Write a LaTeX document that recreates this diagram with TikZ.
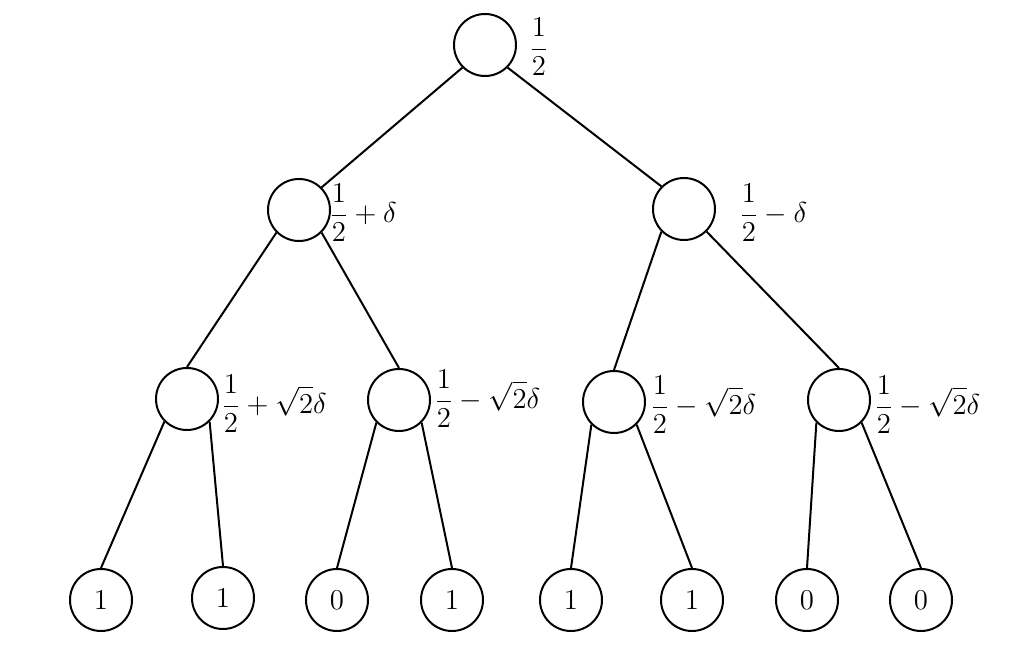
\documentclass[tikz,border=0pt]{standalone}
\begin{document}
\begin{tikzpicture}[x=0.5pt,y=-0.5pt,
  vert/.style={circle,draw,line width=1pt,minimum size=31pt,inner sep=0pt,font=\fontsize{15}{18}\selectfont},
  lab/.style={anchor=west,inner sep=0pt,font=\fontsize{15.5}{18}\selectfont},
  edge/.style={line width=1pt}]
\useasboundingbox (0,0) rectangle (1024,656);
\node[vert] (r) at (485,45) {};
\node[vert] (a) at (299,210) {};
\node[vert] (b) at (684,209) {};
\node[vert] (a1) at (187,399) {};
\node[vert] (a2) at (399,400) {};
\node[vert] (b1) at (614,402) {};
\node[vert] (b2) at (839,400) {};
\node[vert] (l1) at (101,600) {$1$};
\node[vert] (l2) at (223,598) {$1$};
\node[vert] (l3) at (337,600) {$0$};
\node[vert] (l4) at (452,600) {$1$};
\node[vert] (l5) at (571,600) {$1$};
\node[vert] (l6) at (692,600) {$1$};
\node[vert] (l7) at (807,600) {$0$};
\node[vert] (l8) at (921,600) {$0$};
\node[lab] (tr) at (529,47) {$\displaystyle\frac{1}{2}$};
\node[lab] (ta) at (329,213) {$\displaystyle\frac{1}{2}+\delta$};
\node[lab] (tb) at (739,213) {$\displaystyle\frac{1}{2}-\delta$};
\node[lab] (ta1) at (221,404) {$\displaystyle\frac{1}{2}+\sqrt{2}\delta$};
\node[lab] (ta2) at (434,399) {$\displaystyle\frac{1}{2}-\sqrt{2}\delta$};
\node[lab] (tb1) at (650,405) {$\displaystyle\frac{1}{2}-\sqrt{2}\delta$};
\node[lab] (tb2) at (874,405) {$\displaystyle\frac{1}{2}-\sqrt{2}\delta$};
\draw[edge] (r.south west) -- (a.north east);
\draw[edge] (r.south east) -- (b.north west);
\draw[edge] (a.south west) -- (a1.north);
\draw[edge] (a.south east) -- (a2.north);
\draw[edge] (b.south west) -- (b1.north);
\draw[edge] (b.south east) -- (b2.north);
\draw[edge] (a1.south west) -- (l1.north);
\draw[edge] (a1.south east) -- (l2.north);
\draw[edge] (a2.south west) -- (l3.north);
\draw[edge] (a2.south east) -- (l4.north);
\draw[edge] (b1.south west) -- (l5.north);
\draw[edge] (b1.south east) -- (l6.north);
\draw[edge] (b2.south west) -- (l7.north);
\draw[edge] (b2.south east) -- (l8.north);
\end{tikzpicture}
\end{document}
